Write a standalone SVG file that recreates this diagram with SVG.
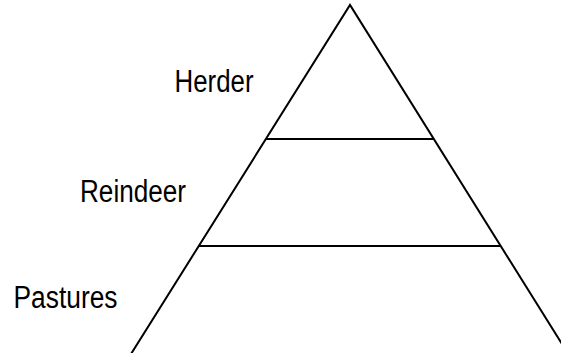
<svg xmlns="http://www.w3.org/2000/svg" width="561" height="353" viewBox="0 0 561 353">
<style>
.l{stroke:#000;stroke-width:2;fill:none}
.t{font-family:"Liberation Sans",Arial,sans-serif;font-size:31px;fill:#000}
</style>
<rect width="561" height="353" fill="#fff"/>
<g id="connectors">
<polyline class="l" points="131,354 350,5 562,344"/>
<line class="l" x1="266" y1="139" x2="433" y2="139"/>
<line class="l" x1="199" y1="246" x2="500" y2="246"/>
</g>
<g id="herder"><text class="t" x="174.5" y="92" textLength="79" lengthAdjust="spacingAndGlyphs">Herder</text></g>
<g id="reindeer"><text class="t" x="80" y="202" textLength="106" lengthAdjust="spacingAndGlyphs">Reindeer</text></g>
<g id="pastures"><text class="t" x="13.5" y="308" textLength="104" lengthAdjust="spacingAndGlyphs">Pastures</text></g>
</svg>
